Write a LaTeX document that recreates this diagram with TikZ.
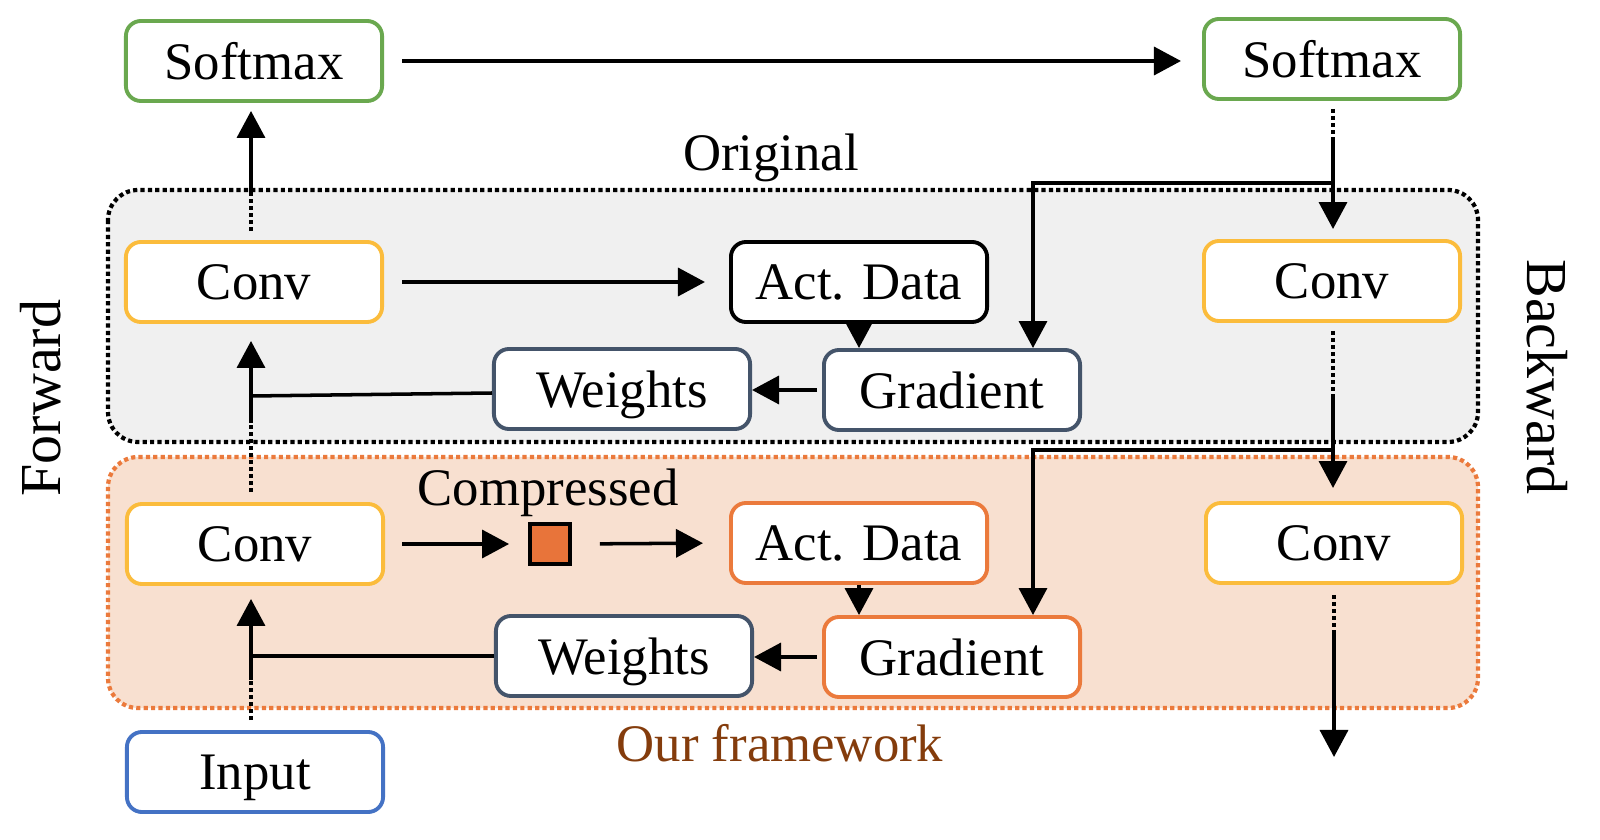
\documentclass[tikz,border=0pt]{standalone}
\usepackage{fontspec}
\setmainfont{Liberation Serif}
\usetikzlibrary{arrows.meta}
\definecolor{softgreen}{HTML}{6AA84F}
\definecolor{convyellow}{HTML}{FBBC3C}
\definecolor{inblue}{HTML}{4472C4}
\definecolor{slate}{HTML}{44546A}
\definecolor{actorange}{HTML}{EB7A3C}
\definecolor{origgray}{HTML}{F0F0F0}
\definecolor{ourfill}{HTML}{F8E0D0}
\definecolor{ourtext}{HTML}{843C0C}
\definecolor{sqorange}{HTML}{E8743A}
\begin{document}
\begin{tikzpicture}[x=0.01cm,y=-0.01cm,
        box/.style={draw,rounded corners=0.15cm,line width=1.1pt,fill=white,minimum width=2.56cm,minimum height=0.8cm,inner sep=0pt,text depth=0pt,font=\fontsize{15}{18}\selectfont},
        arr/.style={line width=1pt,-{Triangle[length=0.27cm,width=0.28cm]}},
        line/.style={line width=1pt},
        dots/.style={line width=1.2pt,dash pattern=on 1.1pt off 0.9pt},
        lbl/.style={font=\fontsize{15}{18}\selectfont,text depth=0pt},
        side/.style={font=\fontsize{16.5}{20}\selectfont},
        region/.style={line width=1.2pt,dash pattern=on 1.2pt off 0.9pt,rounded corners=0.3cm}]
                \useasboundingbox (0,0) rectangle (1600,840);
                \draw [region,draw=black,fill=origgray] (108,190) rectangle (1478,442);
                \draw [region,draw=actorange,fill=ourfill] (108,457) rectangle (1478,708);
                \node [box,draw=softgreen] (smL) at (254,61) {Softmax};
                \node [box,draw=softgreen] (smR) at (1332,59) {Softmax};
                \node [box,draw=convyellow] (convTL) at (254,282) {Conv};
                \node [box,draw=black] (actT) at (859,282) {Act. Data};
                \node [box,draw=convyellow] (convTR) at (1332,281) {Conv};
                \node [box,draw=slate] (wT) at (622,389) {Weights};
                \node [box,draw=slate] (gradT) at (952,390) {Gradient};
                \node [box,draw=convyellow] (convBL) at (255,544) {Conv};
                \node [draw=black,fill=sqorange,line width=1.1pt,minimum size=0.4cm,inner sep=0pt] (sq) at (550,544) {};
                \node [box,draw=actorange] (actB) at (859,543) {Act. Data};
                \node [box,draw=convyellow] (convBR) at (1334,543) {Conv};
                \node [box,draw=slate] (wB) at (624,656) {Weights};
                \node [box,draw=actorange] (gradB) at (952,657) {Gradient};
                \node [box,draw=inblue] (input) at (255,772) {Input};
                \node [lbl] (orig) at (771,152) {Original};
                \node [lbl] (comp) at (548,487) {Compressed};
                \node [lbl,text=ourtext] (ours) at (780,743) {Our framework};
                \node [side,rotate=90] (fwd) at (41,398) {Forward};
                \node [side,rotate=-90] (bwd) at (1547,377) {Backward};
                \coordinate (fA) at (251,192);
                \coordinate (fB) at (251,423);
                \coordinate (fW) at (251,396);
                \coordinate (fC) at (251,680);
                \draw [dots,shorten <=0.09cm] (convTL.north -| fA) -- (fA);
                \draw [arr,shorten >=0.08cm] (fA) -- (fA |- smL.south);
                \draw [dots,shorten <=0.1cm] (convBL.north -| fB) -- (fB);
                \draw [arr,shorten >=0.17cm] (fB) -- (fB |- convTL.south);
                \draw [line] ([yshift=-0.04cm]wT.west) -- (fW);
                \draw [dots,shorten <=0.1cm] (input.north -| fC) -- (fC);
                \draw [arr,shorten >=0.13cm] (fC) -- (fC |- convBL.south);
                \draw [line] (wB.west) -- (wB.west -| fC);
                \draw [arr,shorten <=0.18cm,shorten >=0.21cm] (smL.east) -- (smL.east -| smR.west);
                \draw [arr,shorten <=0.18cm,shorten >=0.24cm] (convTL.east) -- (actT.west);
                \draw [arr,shorten <=0.17cm,shorten >=0.19cm] (convBL.east) -- (sq.west);
                \draw [arr,shorten <=0.28cm,shorten >=0.26cm] (sq.east) -- (actB.west);
                \draw [arr] (actT.south) -- (actT.south |- gradT.north);
                \draw [arr] (actB.south) -- (actB.south |- gradB.north);
                \draw [arr,shorten <=0.05cm] (gradT.west) -- (gradT.west -| wT.east);
                \draw [arr,shorten <=0.05cm] (gradB.west) -- (gradB.west -| wB.east);
                \coordinate (bA) at (1333,140);
                \coordinate (bJ) at (1333,183);
                \coordinate (gJ) at (1033,183);
                \draw [dots,shorten <=0.08cm] (smR.south -| bA) -- (bA);
                \draw [arr,shorten >=0.1cm] (bA) -- (bA |- convTR.north);
                \draw [arr] (bJ) -- (gJ) -- (gJ |- gradT.north);
                \coordinate (bB) at (1333,397);
                \coordinate (bK) at (1333,450);
                \coordinate (gK) at (1033,450);
                \draw [dots,shorten <=0.08cm] (convTR.south -| bB) -- (bB);
                \draw [arr,shorten >=0.13cm] (bB) -- (bB |- convBR.north);
                \draw [arr] (bK) -- (gK) -- (gK |- gradB.north);
                \coordinate (bC) at (1334,630);
                \coordinate (bEnd) at (1334,757);
                \draw [dots,shorten <=0.1cm] (convBR.south -| bC) -- (bC);
                \draw [arr] (bC) -- (bEnd);
            \end{tikzpicture}
\end{document}
